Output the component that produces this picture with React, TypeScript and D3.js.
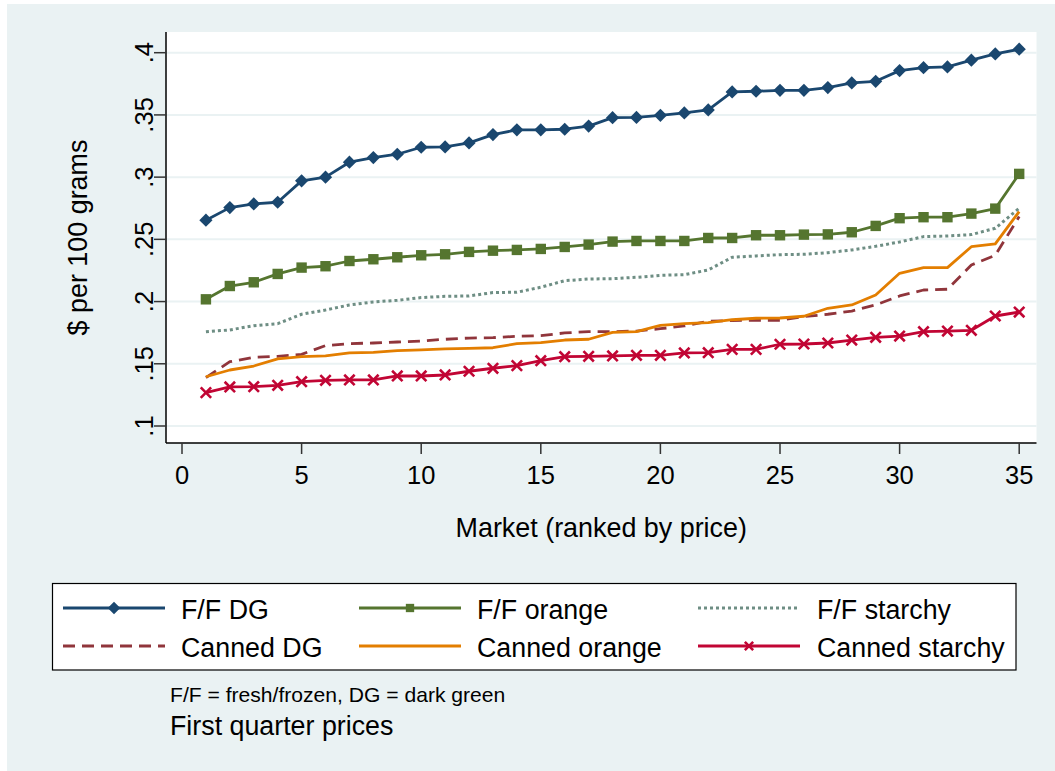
import React from "react";
import * as d3 from "d3";

const markets = d3.range(1, 36);

const ffDG = [0.2654, 0.2755, 0.2785, 0.2798, 0.297, 0.300, 0.312, 0.3157, 0.3184, 0.324, 0.3243, 0.3275, 0.3342, 0.338, 0.338, 0.3385, 0.341, 0.3478, 0.348, 0.3497, 0.3516, 0.354, 0.3685, 0.369, 0.3698, 0.3698, 0.372, 0.3757, 0.377, 0.3856, 0.388, 0.3886, 0.394, 0.399, 0.4028];
const ffOrange = [0.2018, 0.2125, 0.2155, 0.2222, 0.2273, 0.2284, 0.2326, 0.234, 0.2356, 0.2372, 0.238, 0.2399, 0.2409, 0.2415, 0.2423, 0.2439, 0.2458, 0.2482, 0.2487, 0.2487, 0.2487, 0.2511, 0.2511, 0.2533, 0.2533, 0.2538, 0.254, 0.2557, 0.2608, 0.267, 0.2678, 0.2678, 0.2707, 0.2747, 0.3026];
const ffStarchy = [0.1758, 0.1772, 0.1806, 0.1822, 0.1898, 0.1932, 0.1973, 0.1997, 0.201, 0.2032, 0.2042, 0.2045, 0.2072, 0.2075, 0.2115, 0.2168, 0.2181, 0.2184, 0.2195, 0.2211, 0.2216, 0.2254, 0.2356, 0.2367, 0.2377, 0.238, 0.2393, 0.2415, 0.2444, 0.2479, 0.2522, 0.2527, 0.2538, 0.2589, 0.275];
const cannedDG = [0.1389, 0.1517, 0.1552, 0.156, 0.1576, 0.1646, 0.1662, 0.1667, 0.1675, 0.1683, 0.1697, 0.1707, 0.171, 0.1721, 0.1726, 0.1748, 0.1758, 0.1758, 0.1763, 0.1782, 0.1804, 0.1841, 0.1847, 0.185, 0.185, 0.1879, 0.1898, 0.1924, 0.1973, 0.2045, 0.2093, 0.2099, 0.2294, 0.2372, 0.2683];
const cannedOrange = [0.1396, 0.145, 0.1482, 0.1539, 0.1557, 0.1563, 0.1587, 0.1592, 0.1605, 0.1611, 0.1619, 0.1624, 0.1629, 0.1662, 0.167, 0.1691, 0.1697, 0.1753, 0.1758, 0.1809, 0.1822, 0.183, 0.1854, 0.1866, 0.1868, 0.1882, 0.1946, 0.1973, 0.2053, 0.2227, 0.2273, 0.2273, 0.2441, 0.2463, 0.2723];
const cannedStarchy = [0.1268, 0.1314, 0.1316, 0.1327, 0.1356, 0.1367, 0.137, 0.137, 0.1402, 0.1402, 0.141, 0.144, 0.1464, 0.1485, 0.1525, 0.1557, 0.156, 0.1563, 0.1568, 0.1568, 0.1587, 0.1589, 0.1616, 0.1616, 0.1657, 0.1659, 0.1667, 0.1691, 0.1713, 0.1723, 0.1758, 0.1763, 0.1769, 0.1884, 0.1916];

const xTicks = [0, 5, 10, 15, 20, 25, 30, 35];
const yTicks = [0.1, 0.15, 0.2, 0.25, 0.3, 0.35, 0.4];
const yTickLabels = [".1", ".15", ".2", ".25", ".3", ".35", ".4"];

type Series = { name: string; values: number[]; color: string; dash?: string; marker?: "diamond" | "square" | "x" };

const series: Series[] = [
  { name: "F/F DG", values: ffDG, color: "#1A476F", marker: "diamond" },
  { name: "F/F orange", values: ffOrange, color: "#55752F", marker: "square" },
  { name: "F/F starchy", values: ffStarchy, color: "#6E8E84", dash: "3,3" },
  { name: "Canned DG", values: cannedDG, color: "#90353B", dash: "12,7" },
  { name: "Canned orange", values: cannedOrange, color: "#E37E00" },
  { name: "Canned starchy", values: cannedStarchy, color: "#C10534", marker: "x" },
];

const FONT = "'Liberation Sans', Arial, Helvetica, sans-serif";
const BG = "#EAF2F3";

function Marker({ kind, x, y, color, scale = 1 }: { kind: string; x: number; y: number; color: string; scale?: number }) {
  if (kind === "diamond") {
    const s = 6.6 * scale;
    return <path d={`M${x},${y - s}L${x + s},${y}L${x},${y + s}L${x - s},${y}Z`} fill={color} />;
  }
  if (kind === "square") {
    const s = 5.2 * scale;
    return <rect x={x - s} y={y - s} width={2 * s} height={2 * s} fill={color} />;
  }
  if (kind === "x") {
    const s = 5.2 * scale;
    return (
      <path d={`M${x - s},${y - s}L${x + s},${y + s}M${x - s},${y + s}L${x + s},${y - s}`} stroke={color} strokeWidth={2.6} fill="none" />
    );
  }
  return null;
}

export default function App() {
  const L = 166, R = 1036.5, T = 32, B = 443;
  const x = d3.scaleLinear().domain([0, 35]).range([182, 1019.2]);
  const y = d3.scaleLinear().domain([0.1, 0.4]).range([426, 52.7]);
  const line = d3.line<number>().x((_, i) => x(markets[i])).y((d) => y(d));

  const legendCols = [
    { x1: 63, x2: 165, tx: 181 },
    { x1: 359, x2: 461, tx: 477 },
    { x1: 698, x2: 800, tx: 817 },
  ];
  const legendRows = [608, 646];

  return (
    <svg width={1055} height={771} style={{ position: "absolute", left: 0, top: 0, background: "#fff" }} fontFamily={FONT}>
      <rect x={7} y={4} width={1048} height={767} fill={BG} />
      <rect x={L} y={T} width={R - L} height={B - T} fill="#fff" />
      {yTicks.map((t) => (
        <line key={"g" + t} x1={L} x2={R} y1={y(t)} y2={y(t)} stroke={BG} strokeWidth={2} />
      ))}
      {series.map((s) => (
        <path
          key={s.name}
          d={line(s.values) || ""}
          fill="none"
          stroke={s.color}
          strokeWidth={s.dash === "3,3" ? 3 : 2.8}
          strokeDasharray={s.dash}
          strokeLinejoin="round"
        />
      ))}
      {series.filter((s) => s.marker).map((s) =>
        s.values.map((v, i) => <Marker key={s.name + i} kind={s.marker!} x={x(markets[i])} y={y(v)} color={s.color} />)
      )}
      {/* axes */}
      <line x1={L} x2={L} y1={T} y2={B} stroke="#000" strokeWidth={1.5} />
      <line x1={L} x2={R} y1={B} y2={B} stroke="#000" strokeWidth={1.5} />
      {yTicks.map((t, i) => (
        <g key={"yt" + t}>
          <line x1={L - 12} x2={L} y1={y(t)} y2={y(t)} stroke="#333" strokeWidth={1.5} />
          <text transform={`translate(152.5,${y(t)}) rotate(-90)`} textAnchor="middle" fontSize={25.5} fill="#000">
            {yTickLabels[i]}
          </text>
        </g>
      ))}
      {xTicks.map((t) => (
        <g key={"xt" + t}>
          <line x1={x(t)} x2={x(t)} y1={B} y2={B + 11} stroke="#333" strokeWidth={1.5} />
          <text x={x(t)} y={484.3} textAnchor="middle" fontSize={25.5} fill="#000">
            {t}
          </text>
        </g>
      ))}
      <text x={(L + R) / 2} y={536.5} textAnchor="middle" fontSize={26.9} fill="#000">
        Market (ranked by price)
      </text>
      <text transform={`translate(87,${(T + B) / 2}) rotate(-90)`} textAnchor="middle" fontSize={26.9} fill="#000">
        $ per 100 grams
      </text>
      {/* legend */}
      <rect x={52.5} y={583.5} width={963.5} height={86.5} fill="#fff" stroke="#000" strokeWidth={1.2} />
      {series.map((s, i) => {
        const c = legendCols[i % 3];
        const ry = legendRows[Math.floor(i / 3)];
        return (
          <g key={"lg" + s.name}>
            <line x1={c.x1} x2={c.x2} y1={ry} y2={ry} stroke={s.color} strokeWidth={s.dash === "3,3" ? 3 : 2.8} strokeDasharray={s.dash} />
            {s.marker && <Marker kind={s.marker} x={(c.x1 + c.x2) / 2} y={ry} color={s.color} scale={s.marker === "x" ? 0.8 : s.marker === "square" ? 0.8 : 0.95} />}
            <text x={c.tx} y={ry + 11} fontSize={26.8} fill="#000">
              {s.name}
            </text>
          </g>
        );
      })}
      <text x={170} y={701.5} fontSize={21.1} fill="#000">
        F/F = fresh/frozen, DG = dark green
      </text>
      <text x={170} y={735} fontSize={26.8} fill="#000">
        First quarter prices
      </text>
    </svg>
  );
}
